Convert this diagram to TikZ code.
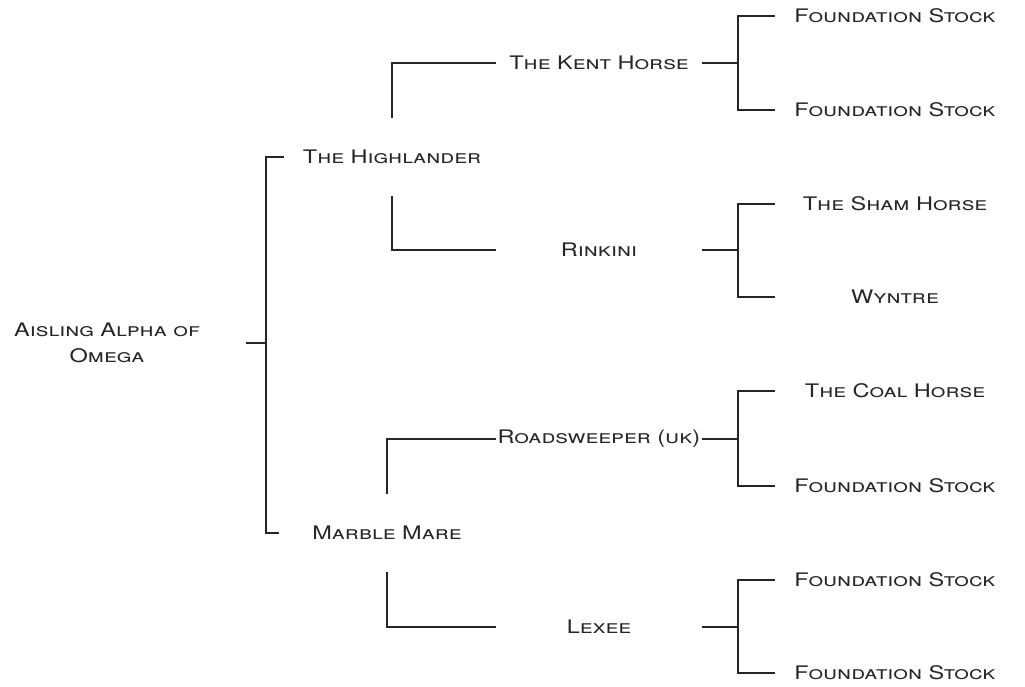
\documentclass[tikz,border=0pt]{standalone}
\usepackage{fontspec}
\setmainfont{TeX Gyre Heros}[FakeStretch=1.26]
\tikzset{
  horse/.style = {font=\scshape\fontsize{14}{19}\selectfont, text=black!85, inner sep=0pt},
  gen0/.style  = {horse, align=center, minimum width=208pt},
  gen1/.style  = {horse, minimum width=162pt, minimum height=58pt},
  gen2/.style  = {horse, minimum width=154pt},
  gen3/.style  = {horse, minimum width=180pt},
  link/.style  = {draw=black!85, line width=0.8pt}
}
\begin{document}
\begin{tikzpicture}[x=0.75pt, y=-0.75pt]
  \useasboundingbox (0,0) rectangle (1025,686);
  % foal
  \node[gen0] (foal) at (107,343) {Aisling Alpha of\\Omega};
  % sire and dam
  \node[gen1] (sire) at (392,157) {The Highlander};
  \node[gen1] (dam)  at (387,533) {Marble Mare};
  % grandparents
  \node[gen2] (ss) at (599,63)  {The Kent Horse};
  \node[gen2] (sd) at (599,250) {Rinkini};
  \node[gen2] (ds) at (599,439) {Roadsweeper (uk)};
  \node[gen2] (dd) at (599,627) {Lexee};
  % great-grandparents
  \node[gen3] (sss) at (895,16)  {Foundation Stock};
  \node[gen3] (ssd) at (895,110) {Foundation Stock};
  \node[gen3] (sds) at (895,204) {The Sham Horse};
  \node[gen3] (sdd) at (895,297) {Wyntre};
  \node[gen3] (dss) at (895,391) {The Coal Horse};
  \node[gen3] (dsd) at (895,486) {Foundation Stock};
  \node[gen3] (dds) at (895,580) {Foundation Stock};
  \node[gen3] (ddd) at (895,673) {Foundation Stock};
  % joints
  \coordinate (j)   at (266,343);
  \coordinate (jss) at (738,63);
  \coordinate (jsd) at (738,250);
  \coordinate (jds) at (738,439);
  \coordinate (jdd) at (738,627);
  % brackets
  \draw[link] (foal.east) -- (j);
  \draw[link] (sire.west) -| (j) |- (dam.west);
  \draw[link] (ss.west) -| (sire.north);
  \draw[link] (sire.south) |- (sd.west);
  \draw[link] (ds.west) -| (dam.north);
  \draw[link] (dam.south) |- (dd.west);
  \draw[link] (ss.east) -- (jss);
  \draw[link] (sss.west) -| (jss) |- (ssd.west);
  \draw[link] (sd.east) -- (jsd);
  \draw[link] (sds.west) -| (jsd) |- (sdd.west);
  \draw[link] (ds.east) -- (jds);
  \draw[link] (dss.west) -| (jds) |- (dsd.west);
  \draw[link] (dd.east) -- (jdd);
  \draw[link] (dds.west) -| (jdd) |- (ddd.west);
\end{tikzpicture}
\end{document}
